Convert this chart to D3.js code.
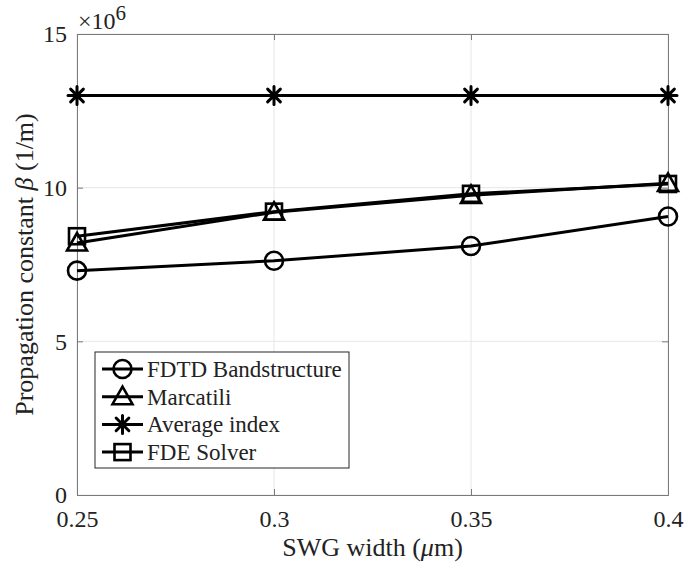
<!DOCTYPE html>
<html>
<head>
<meta charset="utf-8">
<script src="https://cdn.jsdelivr.net/npm/d3@7"></script>
<style>
  body { margin: 0; background: #fff; }
  text { font-family: "Liberation Serif", "Times New Roman", serif; fill: #222; }
</style>
</head>
<body>
<div id="chart"></div>
<script>
const widths = [0.25, 0.3, 0.35, 0.4];
const fdtd = [7.3, 7.62, 8.1, 9.06];
const marcatili = [8.2, 9.2, 9.75, 10.14];
const avgIndex = [13.0, 13.0, 13.0, 13.0];
const fdeSolver = [8.42, 9.22, 9.8, 10.12];
const xTicks = [0.25, 0.3, 0.35, 0.4];
const yTicks = [0, 5, 10, 15];

const series = [
    { name: "FDTD Bandstructure", values: fdtd, marker: "circle" },
    { name: "Marcatili", values: marcatili, marker: "triangle" },
    { name: "Average index", values: avgIndex, marker: "star" },
    { name: "FDE Solver", values: fdeSolver, marker: "square" },
];

const svgWidth = 688;
const svgHeight = 572;
const margin = { top: 34, right: 20, bottom: 77, left: 77 };
const width = svgWidth - margin.left - margin.right;
const height = svgHeight - margin.top - margin.bottom;
const axisColor = "#7a7a7a";

const svg = d3.select('#chart')
    .append("svg")
    .attr("width", svgWidth)
    .attr("height", svgHeight);

const g = svg.append("g")
    .attr("transform", `translate(${margin.left},${margin.top})`);

const x = d3.scaleLinear().domain([0.25, 0.4]).range([0, width]);
const y = d3.scaleLinear().domain([0, 15]).range([height, 0]);

// Grid
g.append("g").selectAll("line")
    .data(xTicks)
    .join("line")
    .attr("x1", d => x(d)).attr("x2", d => x(d))
    .attr("y1", 0).attr("y2", height)
    .style("stroke", "#e6e6e6");
g.append("g").selectAll("line")
    .data(yTicks)
    .join("line")
    .attr("x1", 0).attr("x2", width)
    .attr("y1", d => y(d)).attr("y2", d => y(d))
    .style("stroke", "#e6e6e6");

// Axes (ticks inside, MATLAB style)
g.append("g")
    .attr("transform", `translate(0,${height})`)
    .call(d3.axisBottom(x).tickValues(xTicks).tickSize(-6).tickPadding(15)
        .tickFormat(d => String(+d.toFixed(2))));
g.append("g")
    .call(d3.axisLeft(y).tickValues(yTicks).tickSize(-6).tickPadding(10));
g.append("g")
    .call(d3.axisTop(x).tickValues(xTicks).tickSize(-6).tickFormat(""));
g.append("g").attr("transform", `translate(${width},0)`)
    .call(d3.axisRight(y).tickValues(yTicks).tickSize(-6).tickFormat(""));

g.selectAll(".domain, .tick line").style("stroke", axisColor);
g.selectAll(".tick text").style("font-size", "24px")
    .style("font-family", "'Liberation Serif', serif").style("fill", "#222");

// Exponent
svg.append("text")
    .attr("x", margin.left + 1)
    .attr("y", 29)
    .style("font-size", "24px")
    .html('×10<tspan dy="-9" font-size="21px">6</tspan>');

// Lines
const line = d3.line()
    .x((d, i) => x(widths[i]))
    .y(d => y(d));

function drawMarker(sel, type, cx, cy) {
    if (type === "circle") {
        sel.append("circle").attr("cx", cx).attr("cy", cy).attr("r", 9)
            .style("fill", "none").style("stroke", "#000").style("stroke-width", 2.6);
    } else if (type === "triangle") {
        const s = 10;
        sel.append("path")
            .attr("d", `M${cx},${cy - s}L${cx + s},${cy + s * 0.75}L${cx - s},${cy + s * 0.75}Z`)
            .style("fill", "none").style("stroke", "#000").style("stroke-width", 2.6);
    } else if (type === "square") {
        sel.append("rect").attr("x", cx - 8).attr("y", cy - 8).attr("width", 16).attr("height", 16)
            .style("fill", "none").style("stroke", "#000").style("stroke-width", 2.6);
    } else if (type === "star") {
        const r = 9;
        let d = "";
        [0, 45, 90, 135].forEach(a => {
            const t = a * Math.PI / 180;
            d += `M${cx - r * Math.cos(t)},${cy - r * Math.sin(t)}L${cx + r * Math.cos(t)},${cy + r * Math.sin(t)}`;
        });
        sel.append("path").attr("d", d)
            .style("stroke", "#000").style("stroke-width", 3).style("stroke-linecap", "round");
    }
}

series.forEach(s => {
    g.append("path")
        .datum(s.values)
        .attr("d", line)
        .style("fill", "none")
        .style("stroke", "#000")
        .style("stroke-width", 3);
    const mg = g.append("g");
    s.values.forEach((v, i) => drawMarker(mg, s.marker, x(widths[i]), y(v)));
});

// Axis labels
svg.append("text")
    .attr("x", margin.left + width / 2)
    .attr("y", 556)
    .attr("text-anchor", "middle")
    .style("font-size", "26px")
    .html('SWG width (<tspan font-style="italic">μ</tspan>m)');

svg.append("text")
    .attr("transform", `translate(33,${margin.top + height / 2}) rotate(-90)`)
    .attr("text-anchor", "middle")
    .style("font-size", "26px")
    .html('Propagation constant <tspan font-style="italic">β</tspan> (1/m)');

// Legend
const legend = svg.append("g").attr("transform", "translate(95,352)");
legend.append("rect")
    .attr("width", 254).attr("height", 116)
    .style("fill", "#fff").style("stroke", "#262626").style("stroke-width", 1);
series.forEach((s, i) => {
    const ly = 17 + i * 27.7;
    const row = legend.append("g");
    row.append("line").attr("x1", 7).attr("x2", 48).attr("y1", ly).attr("y2", ly)
        .style("stroke", "#000").style("stroke-width", 3);
    drawMarker(row, s.marker, 27.5, ly);
    row.append("text").attr("x", 52).attr("y", ly + 8)
        .style("font-size", "23px").text(s.name);
});
</script>
</body>
</html>
